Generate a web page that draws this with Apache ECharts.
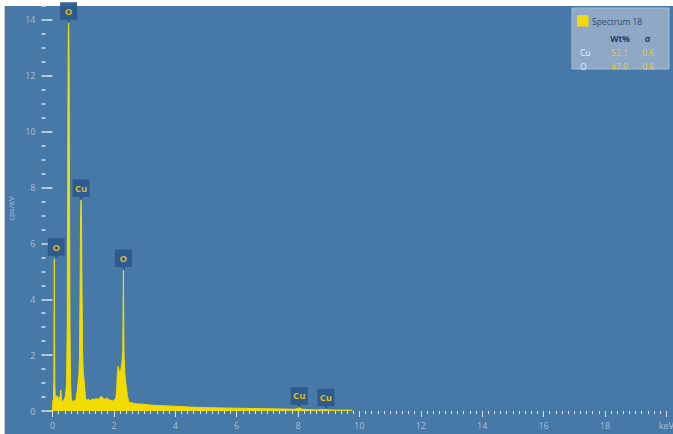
<!DOCTYPE html>
<html>
<head>
<meta charset="utf-8">
<script src="https://cdn.jsdelivr.net/npm/echarts@6/dist/echarts.min.js"></script>
<style>
  html, body { margin: 0; padding: 0; background: #ffffff; }
  #chart { width: 673px; height: 434px; }
</style>
</head>
<body>
<div id="chart"></div>
<script>
// Spectrum 18: photon energy (keV) and counts (cps/eV)
const energyKeV = [
  0.00, 0.01, 0.03, 0.045, 0.06, 0.075, 0.09, 0.12, 0.15, 0.18, 0.21, 0.24, 0.27, 0.29, 0.31, 0.34, 0.37, 0.40,
  0.43, 0.46, 0.48, 0.495, 0.505, 0.515, 0.525, 0.535, 0.545, 0.555, 0.57, 0.59, 0.61, 0.64, 0.67, 0.70,
  0.74, 0.77, 0.80, 0.83, 0.86, 0.88, 0.90, 0.915, 0.93, 0.945, 0.96, 0.98, 1.00, 1.03, 1.05, 1.08,
  1.12, 1.18, 1.24, 1.30, 1.36, 1.42, 1.48, 1.54, 1.60, 1.66, 1.72, 1.78, 1.84, 1.90, 1.96, 2.02,
  2.06, 2.09, 2.11, 2.14, 2.17, 2.20, 2.23, 2.26, 2.29, 2.31, 2.33, 2.36, 2.40, 2.44, 2.48, 2.52,
  2.60, 2.70, 2.80, 3.00, 3.20, 3.40, 3.60, 3.80, 4.00, 4.50, 5.00, 5.50, 6.00, 6.50, 7.00, 7.50, 7.90,
  7.98, 8.04, 8.10, 8.30, 8.60, 8.85, 8.91, 8.97, 9.30, 9.75, 9.78
];
const countsCps = [
  0.00, 0.35, 0.45, 1.20, 5.45, 1.00, 0.50, 0.45, 0.55, 0.40, 0.50, 0.45, 0.75, 0.50, 0.30, 0.35, 0.40, 0.45,
  0.60, 1.00, 3.00, 8.00, 11.5, 13.5, 13.9, 13.5, 11.5, 8.00, 3.00, 1.00, 0.45, 0.35, 0.30, 0.38,
  0.35, 0.45, 0.70, 1.00, 1.30, 2.00, 4.50, 7.00, 7.55, 7.00, 4.50, 2.20, 1.40, 1.10, 0.80, 0.45,
  0.38, 0.42, 0.36, 0.44, 0.40, 0.45, 0.40, 0.48, 0.52, 0.45, 0.42, 0.47, 0.40, 0.38, 0.36, 0.40,
  0.45, 0.70, 1.30, 1.60, 1.45, 1.30, 1.50, 1.70, 2.20, 5.05, 2.00, 1.30, 0.90, 0.55, 0.35, 0.30,
  0.29, 0.26, 0.25, 0.24, 0.21, 0.20, 0.19, 0.18, 0.17, 0.14, 0.12, 0.11, 0.10, 0.09, 0.08, 0.07, 0.06,
  0.09, 0.12, 0.07, 0.05, 0.04, 0.05, 0.06, 0.04, 0.03, 0.03, 0.00
];

// Identified element lines
const lineNames = ['O', 'O', 'Cu', 'O', 'Cu', 'Cu'];
const lineKeV = [0.06, 0.525, 0.93, 2.31, 8.04, 8.91];
const lineCps = [5.45, 13.9, 7.55, 5.05, 0.12, 0.06];

// Quantification result
const quantTitle = 'Spectrum 18';
const quantElements = ['Cu', 'O'];
const quantWt = [52.1, 47.9];
const quantSigma = [0.6, 0.6];

// Axis ticks
const yMajorTicks = [0, 2, 4, 6, 8, 10, 12, 14];
const xUnitLabel = 'keV';
const yUnitLabel = 'cps/eV';

const BG = '#4678a8';
const SPEC = '#f2dc00';
const LABEL = '#a8c0d8';
const TICK = '#dbe4ef';

const chart = echarts.init(document.getElementById('chart'), null, { renderer: 'svg' });

const panelX = 572, panelY = 8;
const panelItems = [
  { type: 'rect', shape: { x: panelX, y: panelY, width: 97, height: 61 },
    style: { fill: '#8ea8c5', stroke: '#a9bdd3', lineWidth: 1 } },
  { type: 'rect', shape: { x: 577, y: 15, width: 11.5, height: 11.5 }, style: { fill: '#f2d80c' } },
  { type: 'text', x: 592, y: 21, style: { text: quantTitle, fill: '#2a4a70', fontSize: 8.5,
    fontFamily: 'Open Sans', verticalAlign: 'middle' } },
  { type: 'text', x: 620, y: 38, style: { text: 'Wt%', fill: '#233f63', fontSize: 8.5, fontWeight: 'bold',
    fontFamily: 'Open Sans', align: 'center', verticalAlign: 'middle' } },
  { type: 'text', x: 647.5, y: 38, style: { text: 'σ', fill: '#233f63', fontSize: 8.5, fontWeight: 'bold',
    fontFamily: 'Open Sans', align: 'center', verticalAlign: 'middle' } }
];
quantElements.forEach((el, i) => {
  const y = 52.5 + i * 13.5;
  panelItems.push(
    { type: 'text', x: 580, y: y, style: { text: el, fill: '#e9eff6', fontSize: 8.5,
      fontFamily: 'Open Sans', verticalAlign: 'middle' } },
    { type: 'text', x: 619.5, y: y, style: { text: quantWt[i].toFixed(1), fill: '#e6cf2a', fontSize: 8.5,
      fontFamily: 'Open Sans', align: 'center', verticalAlign: 'middle' } },
    { type: 'text', x: 648.5, y: y, style: { text: quantSigma[i].toFixed(1), fill: '#e6cf2a', fontSize: 8.5,
      fontFamily: 'Open Sans', align: 'center', verticalAlign: 'middle' } }
  );
});

const axisFont = { color: LABEL, fontSize: 9, fontFamily: 'Open Sans' };

// The label next to the y axis is nudged right so it clears the tick marks
const markerData = lineNames.map((n, i) => {
  const item = { name: n, value: [lineKeV[i], lineCps[i]] };
  if (i === 0) item.symbolOffset = [2, '-50%'];
  return item;
});

chart.setOption({
  animation: false,
  backgroundColor: '#ffffff',
  grid: { left: 52.5, right: 6.7, top: 6, bottom: 23, containLabel: false, outerBoundsMode: 'none' },
  graphic: [
    { type: 'rect', z: -100, silent: true, shape: { x: 5, y: 6, width: 668, height: 428 }, style: { fill: BG } },
    { type: 'rect', z: -99, silent: true, shape: { x: 4, y: 6, width: 1, height: 428 }, style: { fill: '#c8ccd1' } },
    { type: 'group', z: 50, silent: true, children: panelItems }
  ],
  xAxis: {
    type: 'value', min: 0, max: 20, interval: 2, offset: 2,
    axisLine: { show: false },
    splitLine: { show: false },
    axisTick: { show: true, length: 6, lineStyle: { color: TICK, width: 1 } },
    minorTick: { show: true, splitNumber: 10, length: 3, lineStyle: { color: TICK, width: 1 } },
    axisLabel: Object.assign({ margin: 8, formatter: v => (v === 20 ? xUnitLabel : String(v)) }, axisFont)
  },
  yAxis: [
    {
      type: 'value', min: 0, max: 14.5, interval: 2, position: 'left', offset: 7,
      name: yUnitLabel, nameLocation: 'middle', nameGap: 25, nameRotate: 90,
      nameTextStyle: { color: LABEL, fontSize: 8, fontFamily: 'Open Sans' },
      axisLine: { show: false },
      splitLine: { show: false },
      axisTick: { show: true, length: 7, customValues: yMajorTicks, lineStyle: { color: TICK, width: 1.5 } },
      axisLabel: Object.assign({ margin: 10, customValues: yMajorTicks }, axisFont)
    },
    {
      type: 'value', min: 0, max: 14.5, interval: 0.5, position: 'left', offset: 7,
      axisLine: { show: false },
      splitLine: { show: false },
      axisTick: { show: true, length: 4, lineStyle: { color: TICK, width: 1.5 } },
      axisLabel: { show: false }
    }
  ],
  series: [
    {
      type: 'line',
      yAxisIndex: 0,
      data: energyKeV.map((e, i) => [e, countsCps[i]]),
      symbol: 'none',
      silent: true,
      lineStyle: { color: SPEC, width: 1 },
      areaStyle: { color: SPEC, opacity: 1 },
      z: 2
    },
    {
      type: 'scatter',
      yAxisIndex: 0,
      silent: true,
      data: markerData,
      symbol: 'path://M0 0H17V17.5H10.5L8.5 20.5L6.5 17.5H0Z',
      symbolSize: [17, 20.5],
      symbolOffset: [0, '-50%'],
      itemStyle: { color: '#2d5a8c', opacity: 0.95 },
      label: {
        show: true, position: 'inside', offset: [0, -1.5],
        formatter: p => p.name,
        color: '#e4c21e', fontSize: 9.5, fontWeight: 'bold', fontFamily: 'Open Sans'
      },
      emphasis: { disabled: true },
      z: 5
    }
  ]
});
</script>
</body>
</html>
